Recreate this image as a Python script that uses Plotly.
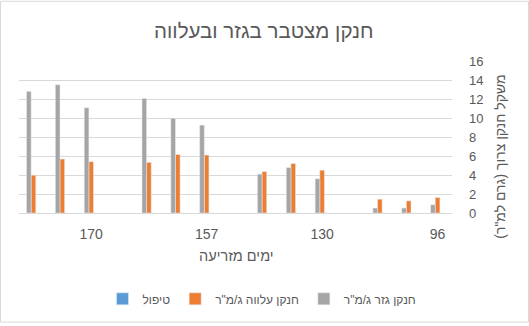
import plotly.graph_objects as go

# Categories from first (rightmost, axis reversed) to last (leftmost)
positions = list(range(1, 16))
slot_labels = ["96", "", "", "", "130", "", "", "", "157", "", "", "", "170", "", ""]
treat = [0, 0, 0, None, 0, 0, 0, None, 0, 0, 0, None, 0, 0, 0]
leaf_n = [1.63, 1.28, 1.45, None, 4.5, 5.2, 4.36, None, 6.1, 6.16, 5.33, None, 5.4, 5.68, 3.98]
root_n = [0.87, 0.52, 0.52, None, 3.6, 4.78, 4.09, None, 9.25, 9.97, 12.05, None, 11.08, 13.5, 12.8]
y_ticks = [0, 2, 4, 6, 8, 10, 12, 14, 16]

W, H = 529, 326
L, R, T, B = 19, 77, 61, 111
PW, PH = W - L - R, H - T - B

def px2x(px):
    return (px - L) / PW

def py2y(py):
    return (H - B - py) / PH

FONT = "Liberation Sans, DejaVu Sans, Arial"
GREY = "#595959"

fig = go.Figure()
fig.add_trace(go.Bar(x=positions, y=treat, name="טיפול", marker_color="#5b9bd5"))
fig.add_trace(go.Bar(x=positions, y=leaf_n, name='חנקן עלווה ג/מ"ר', marker_color="#ed7d31"))
fig.add_trace(go.Bar(x=positions, y=root_n, name='חנקן גזר ג/מ"ר', marker_color="#a5a5a5"))

tv = [p for p, s in zip(positions, slot_labels) if s]
tt = [s for s in slot_labels if s]

fig.update_layout(
    width=W, height=H,
    margin=dict(l=L, r=R, t=T, b=B),
    paper_bgcolor="white", plot_bgcolor="white",
    barmode="group", bargap=0.52, bargroupgap=0,
    font=dict(family=FONT, color=GREY),
    showlegend=True,
    legend=dict(orientation="h", x=px2x(262), xanchor="center", y=py2y(302), yanchor="middle",
                font=dict(size=12, color=GREY), itemclick=False, traceorder="normal"),
    xaxis=dict(range=[15.5, 0.5], tickvals=tv, ticktext=tt, showgrid=False, zeroline=False,
               showline=False, ticks="", tickfont=dict(size=14, color=GREY), ticklabelstandoff=11),
    yaxis=dict(side="right", range=[0, 16], tickvals=y_ticks, showgrid=True, gridcolor="#d9d9d9",
               gridwidth=1, zeroline=True, zerolinecolor="#d9d9d9", zerolinewidth=1,
               ticks="", tickfont=dict(size=13, color=GREY), ticklabelstandoff=16),
    annotations=[
        dict(text="חנקן מצטבר בגזר ובעלווה", xref="paper", yref="paper", x=px2x(264), y=py2y(30),
             xanchor="center", yanchor="middle", showarrow=False, font=dict(size=20.5, color=GREY)),
        dict(text="ימים מזריעה", xref="paper", yref="paper", x=px2x(236), y=py2y(259),
             xanchor="center", yanchor="middle", showarrow=False, font=dict(size=14.5, color=GREY)),
        dict(text='משקל חנקן צרוך (גרם למ"ר)', xref="paper", yref="paper", x=px2x(500), y=py2y(158),
             xanchor="center", yanchor="middle", textangle=-90, showarrow=False,
             font=dict(size=14, color=GREY)),
    ],
    shapes=[dict(type="rect", xref="paper", yref="paper", x0=px2x(0.5), x1=px2x(528.5),
                 y0=py2y(325.5), y1=py2y(0.5), line=dict(color="#d9d9d9", width=1))],
)

fig.write_html("out.html")
